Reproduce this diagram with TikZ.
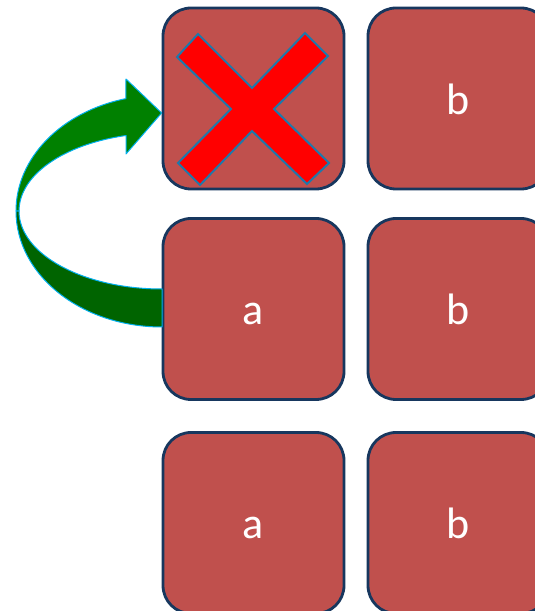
\documentclass[tikz,border=0pt]{standalone}
\usepackage{fontspec}
\setmainfont{Carlito}
\definecolor{tile}{RGB}{192,80,77}
\definecolor{tileedge}{RGB}{23,55,94}
\definecolor{crossred}{RGB}{255,0,0}
\definecolor{crossedge}{RGB}{31,120,170}
\definecolor{arrowfront}{RGB}{0,128,0}
\definecolor{arrowback}{RGB}{0,100,0}
\definecolor{arrowedge}{RGB}{0,176,240}
\tikzset{
  tilebox/.style={draw=tileedge, fill=tile, line width=2.8pt,
    rounded corners=28pt, minimum width=181pt, minimum height=181pt,
    inner sep=0pt, text=white, text height=32pt, text depth=0pt,
    font=\fontsize{44}{44}\selectfont},
  bandfront/.style={fill=arrowfront, draw=arrowedge, line width=1pt, line join=round},
  bandback/.style={fill=arrowback, draw=arrowedge, line width=1pt, line join=round},
  crossmark/.style={fill=crossred, draw=crossedge, line width=2pt, line join=miter}
}
\begin{document}
\begin{tikzpicture}[x=1pt, y=1pt]
  \clip (0,0) rectangle (535,611);

  % grid of tiles: column a and column b, three rows
  \node[tilebox] (a1) at (253.5,512.5) {};
  \node[tilebox] (b1) at (458.5,512.5) {b};
  \node[tilebox] (a2) at (253.5,302) {a};
  \node[tilebox] (b2) at (458.5,302) {b};
  \node[tilebox] (a3) at (253.5,88) {a};
  \node[tilebox] (b3) at (458.5,88) {b};

  % red cross over the first tile
  \draw[crossmark] (198,577) -- (252,523) -- (305,578) -- (328,555)
    -- (274,502) -- (329,448) -- (307,427) -- (252,480) -- (200,426)
    -- (178,448) -- (231,502) -- (177,554) -- cycle;

  % curved arrow from tile a2 back up to tile a1
  % rear band (lower half of the curve)
  \draw[bandback] (162,284)
    arc[start angle=270, end angle=180, x radius=146, y radius=116]
    -- (19,400)
    arc[start angle=180, end angle=270, x radius=143, y radius=78]
    -- cycle;
  % front band with arrowhead (upper half of the curve)
  \draw[bandfront] (16,400)
    arc[start angle=180, end angle=104.3, x radius=146, y radius=116]
    -- (126,532) -- (a1.west |- 0,498) -- (126,457) -- (126,475.5)
    arc[start angle=104.6, end angle=180, x radius=143, y radius=78]
    -- cycle;
\end{tikzpicture}
\end{document}
